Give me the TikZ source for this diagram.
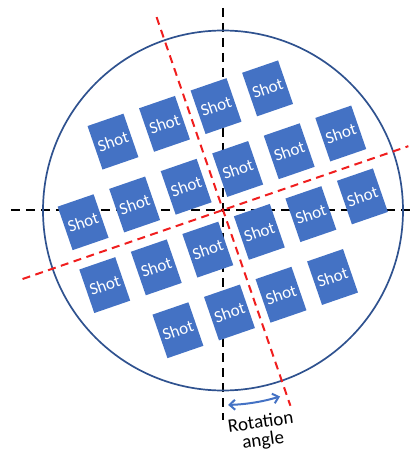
\documentclass[tikz,border=0pt]{standalone}
\usepackage{fontspec}
\setmainfont{Carlito}
\usetikzlibrary{arrows.meta}
\definecolor{shotblue}{HTML}{4472C4}
\definecolor{rim}{HTML}{2F528F}
\definecolor{redline}{HTML}{F01E1E}
\begin{document}
\begin{tikzpicture}[x=1pt,y=1pt,
  shot/.style={fill=shotblue, text=white, rotate=19, inner sep=0pt,
    minimum width=38pt, minimum height=46pt, font=\fontsize{17}{17}\selectfont},
  blackdash/.style={black, line width=2.1pt, dash pattern=on 9pt off 6pt},
  reddash/.style={redline, line width=2pt, dash pattern=on 8pt off 5.5pt},
  rotarrow/.style={shotblue, line width=2pt, {Straight Barb[length=5.5pt,width=10pt]}-{Straight Barb[length=5.5pt,width=10pt]}}]
\useasboundingbox (-223,210) rectangle (196,-243);
% axes (under the shots)
\coordinate (vt) at (0,202);
\coordinate (vb) at (0,-210);
\coordinate (hl) at (-212,0);
\coordinate (hr) at (192,0);
\draw[blackdash] (vt) -- (vb);
\draw[blackdash] (hl) -- (hr);
% wafer
\draw[rim, line width=1.7pt] (0,-0.5) circle (180);
% shots
\begin{scope}[rotate=19]
  \node[shot] (s1) at (-81.75,100.5) {Shot};
  \node[shot] (s2) at (-27.25,100.5) {Shot};
  \node[shot] (s3) at (27.25,100.5) {Shot};
  \node[shot] (s4) at (81.75,100.5) {Shot};
  \node[shot] (s5) at (-136.25,34) {Shot};
  \node[shot] (s6) at (-81.75,34) {Shot};
  \node[shot] (s7) at (-27.25,34) {Shot};
  \node[shot] (s8) at (27.25,34) {Shot};
  \node[shot] (s9) at (81.75,34) {Shot};
  \node[shot] (s10) at (136.25,34) {Shot};
  \node[shot] (s11) at (-136.25,-32.5) {Shot};
  \node[shot] (s12) at (-81.75,-32.5) {Shot};
  \node[shot] (s13) at (-27.25,-32.5) {Shot};
  \node[shot] (s14) at (27.25,-32.5) {Shot};
  \node[shot] (s15) at (81.75,-32.5) {Shot};
  \node[shot] (s16) at (136.25,-32.5) {Shot};
  \node[shot] (s17) at (-81.75,-99) {Shot};
  \node[shot] (s18) at (-27.25,-99) {Shot};
  \node[shot] (s19) at (27.25,-99) {Shot};
  \node[shot] (s20) at (81.75,-99) {Shot};
\end{scope}
% rotated axes
\coordinate (r1a) at (109:204);
\coordinate (r1b) at (-71:207);
\coordinate (r2a) at (199:212);
\coordinate (r2b) at (19:196);
\draw[reddash] (r1a) -- (r1b);
\draw[reddash] (r2a) -- (r2b);
% rotation angle arrow
\coordinate (arL) at (-88.5:195);
\draw[rotarrow] (arL) arc[start angle=-88.5, end angle=-73, radius=195];
\node[rotate=8, align=center, font=\fontsize{19}{18}\selectfont, inner sep=0pt] (lbl) at (39,-222) {Rotation\\angle};
\end{tikzpicture}
\end{document}
